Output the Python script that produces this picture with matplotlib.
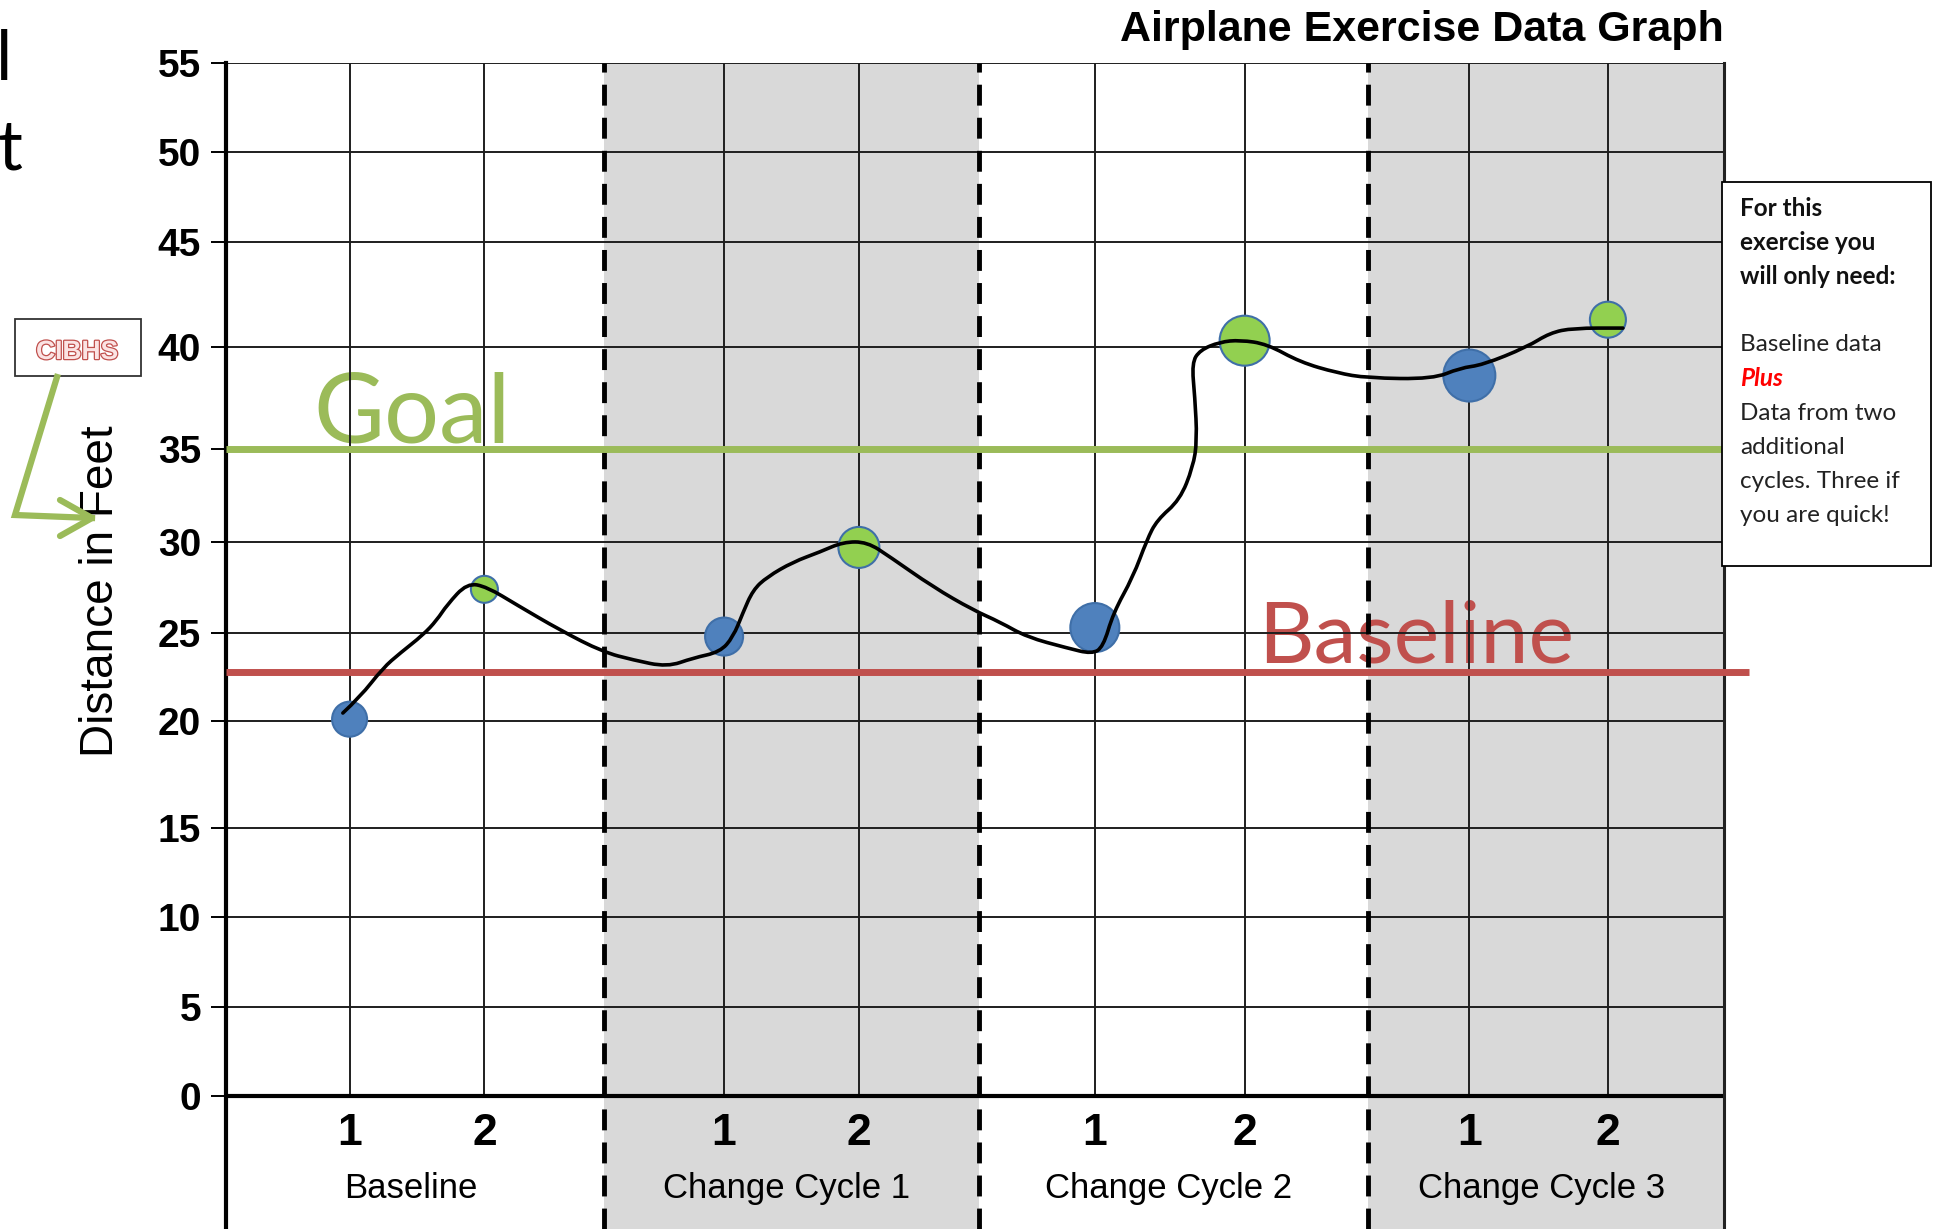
import numpy as np
import matplotlib
matplotlib.use("Agg")
import matplotlib.pyplot as plt
import matplotlib.patheffects as pe
from matplotlib.patches import Rectangle, PathPatch
from matplotlib.lines import Line2D
from matplotlib.path import Path

plt.rcParams['font.family'] = ['Liberation Sans', 'DejaVu Sans']

# ------------------------------------------------------------
# data
# ------------------------------------------------------------
sections = ["Baseline", "Change Cycle 1", "Change Cycle 2", "Change Cycle 3"]
section_edges = [0, 1.01, 2.01, 3.05, 4.0]
shaded = [1, 3]

trial_labels = ["1", "2", "1", "2", "1", "2", "1", "2"]
trial_x = [0.33, 0.69, 1.33, 1.69, 2.32, 2.72, 3.32, 3.69]
distance = [20.1, 27.4, 24.8, 29.7, 25.3, 40.3, 38.6, 41.3]
dot_diam = [35, 27, 38, 41, 49, 50, 52, 36]   # pixels, as drawn

goal = 35
baseline = 22.8
yticks = list(range(0, 60, 5))

# the printed template is not evenly ruled: where each tick value sits on the paper
paper_vals = [-10, 0, 5, 10, 15, 20, 25, 30, 35, 40, 45, 50, 55]
paper_pos = [-10, 0, 4.74, 9.53, 14.27, 19.97, 24.65, 29.50, 34.45, 39.88, 45.47, 50.26, 55]

# hand drawn trend line through the dots
trend_x = [0.312, 0.358, 0.419, 0.465, 0.526, 0.563, 0.590, 0.644, 0.697, 0.777,
           0.892, 1.007, 1.087, 1.178, 1.247, 1.319, 1.354, 1.380, 1.407, 1.445,
           1.514, 1.586, 1.648, 1.712, 1.773, 1.888, 1.995, 2.067, 2.139, 2.246,
           2.312, 2.342, 2.369, 2.422, 2.459, 2.486, 2.547, 2.582, 2.593, 2.587,
           2.579, 2.601, 2.654, 2.708, 2.780, 2.868, 2.967, 3.047, 3.223, 3.295,
           3.356, 3.474, 3.535, 3.597, 3.730]
trend_y = [20.45, 21.36, 23.01, 23.86, 24.89, 25.71, 26.54, 27.75, 27.53, 26.54,
           25.16, 23.92, 23.47, 23.07, 23.58, 23.92, 24.77, 26.10, 27.36, 28.08,
           28.90, 29.45, 30.00, 30.00, 29.18, 27.53, 26.26, 25.60, 24.77, 24.15,
           23.81, 24.20, 26.10, 28.08, 30.11, 31.18, 32.26, 34.03, 35.44, 37.55,
           39.22, 39.85, 40.24, 40.33, 40.14, 39.26, 38.73, 38.48, 38.43, 38.97,
           39.12, 40.00, 40.67, 40.90, 40.90]

note_lines = [
    ("For this", "bold", "normal", "#111111"),
    ("exercise you", "bold", "normal", "#111111"),
    ("will only need:", "bold", "normal", "#111111"),
    ("", "normal", "normal", "#111111"),
    ("Baseline data", "normal", "normal", "#222222"),
    ("Plus", "bold", "italic", "#ff0000"),
    ("Data from two", "normal", "normal", "#222222"),
    ("additional", "normal", "normal", "#222222"),
    ("cycles. Three if", "normal", "normal", "#222222"),
    ("you are quick!", "normal", "normal", "#222222"),
]

# ------------------------------------------------------------
# figure
# ------------------------------------------------------------
W, H = 1941, 1229
YBOT = -7.08

fig = plt.figure(figsize=(W / 100, H / 100), dpi=100)
ax = fig.add_axes([226 / W, 0, 1498 / W, 1166 / H])


def to_paper(v):
    return np.interp(v, paper_vals, paper_pos)


def from_paper(p):
    return np.interp(p, paper_pos, paper_vals)


ax.set_yscale('function', functions=(to_paper, from_paper))
ax.set_xlim(section_edges[0], section_edges[-1])
ax.set_ylim(YBOT, 55)


def fpos(x, y):
    # pixel position in the picture -> figure fraction
    return x / W, 1 - y / H


# grey bands for change cycles 1 and 3
for i in shaded:
    ax.axvspan(section_edges[i], section_edges[i + 1], color='#d9d9d9', lw=0, zorder=0)

# grid
for v in yticks:
    if v == 0:
        ax.axhline(v, color='black', lw=3, zorder=1.5)
    else:
        ax.axhline(v, color='#1e1e1e', lw=1.4, zorder=1)
ax.vlines(trial_x, 0, 55, colors='#1e1e1e', lw=1.4, zorder=1)
for e in section_edges[1:-1]:
    ax.axvline(e, color='black', lw=3.5, linestyle=(0, (4.3, 2.5)), zorder=2)

# goal / baseline reference lines
ax.plot([section_edges[0], section_edges[-1]], [goal, goal], color='#9bbb59',
        lw=5, solid_capstyle='butt', zorder=3)
ax.plot([section_edges[0], section_edges[-1] + 0.067], [baseline, baseline],
        color='#c0504d', lw=5, solid_capstyle='butt', clip_on=False, zorder=3)

ax.text(0.232, 35.34, "Goal", fontsize=70, family=['Lato', 'DejaVu Sans'],
        color='#9bbb59', va='baseline', zorder=0.5)
ax.text(2.756, 23.35, "Baseline", fontsize=62, family=['Lato', 'DejaVu Sans'],
        color='#c0504d', va='baseline', zorder=0.5)

# dots
fills = ['#4f81bd' if t == "1" else '#92d050' for t in trial_labels]
ax.scatter(trial_x, distance, s=[(d * 0.72) ** 2 for d in dot_diam], c=fills,
           edgecolors='#3f6fa8', linewidths=1.5, zorder=4)

# trend line drawn as a smooth quadratic bezier through the traced points
pts = list(zip(trend_x, trend_y))
verts = [pts[0]]
codes = [Path.MOVETO]
for i in range(1, len(pts) - 1):
    mid = ((pts[i][0] + pts[i + 1][0]) / 2, (pts[i][1] + pts[i + 1][1]) / 2)
    verts += [pts[i], mid]
    codes += [Path.CURVE3, Path.CURVE3]
verts.append(pts[-1])
codes.append(Path.LINETO)
ax.add_patch(PathPatch(Path(verts, codes), fill=False, edgecolor='black', lw=2.6,
                       capstyle='round', joinstyle='round', zorder=5))

# axis cosmetics
ax.spines['top'].set_visible(False)
ax.spines['bottom'].set_visible(False)
ax.spines['left'].set_linewidth(3)
ax.spines['left'].set_color('black')
ax.spines['right'].set_linewidth(2.2)
ax.spines['right'].set_color('#222222')
ax.set_xticks([])
ax.set_yticks(yticks)
ax.yaxis.set_minor_locator(matplotlib.ticker.NullLocator())
ax.tick_params(axis='y', length=11, width=1.4, pad=7, labelsize=28)
for lab in ax.get_yticklabels():
    lab.set_fontweight('bold')

# category labels under the zero line
for x, t in zip(trial_x, trial_labels):
    ax.text(x, -2.0, t, fontsize=32, fontweight='bold', ha='center', va='center')
for i, name in enumerate(sections):
    mid = (section_edges[i] + section_edges[i + 1]) / 2 - 0.012
    ax.text(mid, -4.95, name, fontsize=25, ha='center', va='center')

ax.set_title("Airplane Exercise Data Graph", loc='right', fontsize=31,
             fontweight='bold', pad=16)
fig.text(*fpos(101, 591), "Distance in Feet", rotation=90, fontsize=33,
         ha='center', va='center')

# note box on the right
fig.add_artist(Rectangle(fpos(1722, 566), 209 / W, 384 / H, transform=fig.transFigure,
                         facecolor='white', edgecolor='black', lw=1.3, zorder=10))
for k, (txt, wt, st, col) in enumerate(note_lines):
    if txt:
        fig.text(*fpos(1740, 208 + 34.2 * k), txt, fontsize=17.5,
                 family=['Lato', 'DejaVu Sans'], fontweight=wt, fontstyle=st,
                 color=col, ha='left', va='center', zorder=11)

# CIBHS tag with the green arrow
fig.add_artist(Rectangle(fpos(15, 376), 126 / W, 57 / H, transform=fig.transFigure,
                         facecolor='white', edgecolor='#333333', lw=1.3, zorder=10))
fig.text(*fpos(77, 352), "CIBHS", fontsize=19, fontweight='bold',
         family=['Liberation Sans Narrow', 'Liberation Sans'], color='#fbe3e3',
         ha='center', va='center', zorder=11,
         path_effects=[pe.withStroke(linewidth=1.8, foreground='#c0504d')])
arrow_pts = [fpos(57, 377), fpos(15, 515), fpos(92, 518)]
fig.add_artist(Line2D([p[0] for p in arrow_pts], [p[1] for p in arrow_pts],
                      transform=fig.transFigure, color='#9bbb59', lw=4.5,
                      solid_joinstyle='miter', zorder=10))
head = [fpos(60, 500), fpos(92, 518), fpos(60, 536)]
fig.add_artist(Line2D([p[0] for p in head], [p[1] for p in head],
                      transform=fig.transFigure, color='#9bbb59', lw=4.5,
                      solid_capstyle='round', zorder=10))

# slide text cut off at the left edge
fig.text(*fpos(12, 80), "l", fontsize=50, family=['Lato', 'DejaVu Sans'],
         ha='right', va='baseline')
fig.text(*fpos(22, 170), "t", fontsize=50, family=['Lato', 'DejaVu Sans'],
         ha='right', va='baseline')

fig.savefig('out.png', dpi=100)
